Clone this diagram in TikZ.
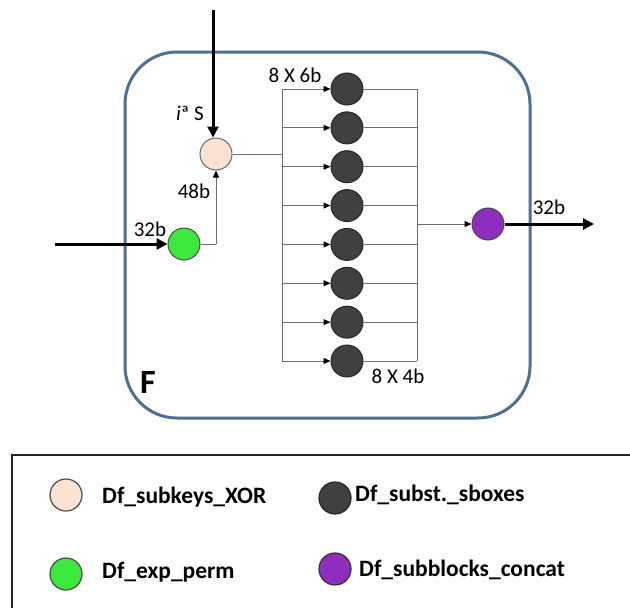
\documentclass[tikz,border=0pt]{standalone}
\usepackage{fontspec}
\setmainfont{Carlito}
\usetikzlibrary{arrows.meta}
\definecolor{peach}{HTML}{FBE3D4}
\definecolor{grn}{HTML}{3CE83C}
\definecolor{drk}{HTML}{404040}
\definecolor{purp}{HTML}{8E2DBE}
\definecolor{frame}{HTML}{4C6F95}
\definecolor{wire}{HTML}{6E6E6E}
\tikzset{
  blk/.style={circle,minimum size=32pt,inner sep=0pt,line width=1pt},
  xorc/.style={blk,fill=peach,draw=gray!80!black},
  expc/.style={blk,fill=grn,draw=black!70},
  sbox/.style={blk,fill=drk,draw=black!85},
  catc/.style={blk,fill=purp,draw=black!70},
  thin/.style={draw=wire,line width=1pt},
  thinarr/.style={thin,-{Triangle[length=7pt,width=6pt,color=black]}},
  thickarr/.style={draw=black,line width=3pt,-{Triangle[length=11pt,width=11pt]}},
  lbl/.style={font=\fontsize{21}{24}\selectfont,inner sep=0pt},
  leg/.style={font=\bfseries\fontsize{23.5}{26}\selectfont,inner sep=0pt,anchor=west},
  legc/.style={circle,minimum width=32pt,minimum height=31pt,inner sep=0pt,line width=1.2pt},
}
\begin{document}
\begin{tikzpicture}[x=1pt,y=-1pt]
\useasboundingbox (0,0) rectangle (630,608);
\clip (0,0) rectangle (630,608);
% frame
\draw[frame,line width=3pt,rounded corners=52pt] (125,52) rectangle (530,418);
\node[font=\bfseries\fontsize{34}{36}\selectfont,inner sep=0pt] (F) at (148,382) {F};

% nodes
\node[xorc] (xor) at (216,154) {};
\node[expc] (exp) at (184,244) {};
\foreach \k in {0,...,7} {
  \node[sbox] (s\k) at (347,{89+\k*38.857}) {};
}
\node[catc] (cat) at (488,224) {};

% coordinates
\coordinate (inTop) at (213,10);
\coordinate (inLeft) at (55,244);
\coordinate (out) at (594,224);
\coordinate (bl) at (282,154);
\coordinate (br) at (417,224);
\coordinate (expc) at (216,244);

% input arrows
\draw[thickarr] (inTop) -- (inTop |- xor.north);
\draw[thickarr] (inLeft) -- (exp.west);
\draw[thickarr] (cat.east) -- (out);

% exp -> xor
\draw[thin] (exp.east) -- (expc);
\draw[thinarr] (expc) -- (xor.south);

% left bus
\draw[thin] (xor.east) -- (bl);
\draw[thin] (282,89) -- (282,361);
\foreach \k in {0,...,7} {
  \draw[thinarr] (282,{89+\k*38.857}) -- (s\k.west);
  \draw[thin] (s\k.east) -- (417,{89+\k*38.857});
}
% right bus
\draw[thin] (417,89) -- (417,361);
\draw[thinarr] (br) -- (cat.west);

% labels
\node[lbl] (li) at (190,113) {\textit{i}ª S};
\node[lbl] (l48) at (194,191) {48b};
\node[lbl] (l32a) at (150,229) {32b};
\node[lbl] (l86) at (295,75) {8 X 6b};
\node[lbl] (l84) at (398,376) {8 X 4b};
\node[lbl] (l32b) at (549,207) {32b};

% legend
\draw[black!85,line width=1.2pt] (12,640) -- (12,455) -- (640,455);
\node[legc,fill=peach,draw=black!70] (k1) at (66,495) {};
\node[leg] (t1) at (102,497) {Df\_subkeys\_XOR};
\node[legc,fill=grn,draw=black!70] (k2) at (66,574) {};
\node[leg] (t2) at (102,572) {Df\_exp\_perm};
\node[legc,fill=drk,draw=black!85] (k3) at (335,498) {};
\node[leg] (t3) at (355,495) {Df\_subst.\_sboxes};
\node[legc,fill=purp,draw=black!80] (k4) at (335,569) {};
\node[leg] (t4) at (359,570) {Df\_subblocks\_concat};
\end{tikzpicture}
\end{document}
